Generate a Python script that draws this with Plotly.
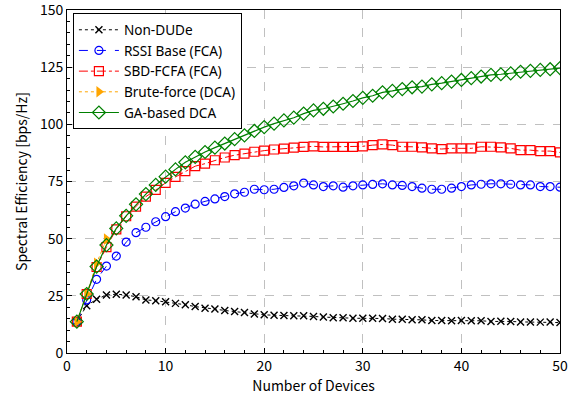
import plotly.graph_objects as go

devices = list(range(1, 51))

non_dude = [13.7, 20.7, 23.5, 25.4, 25.7, 25.4, 24.6, 23.2, 22.9, 22.4,
            21.7, 21.1, 20.3, 19.6, 19.2, 18.6, 18.1, 17.7, 17.1, 16.7,
            16.5, 16.4, 16.3, 16.3, 16.0, 15.7, 15.4, 15.4, 15.2, 15.2,
            15.2, 15.1, 14.8, 14.8, 14.5, 14.5, 14.2, 14.2, 14.1, 14.2,
            14.1, 14.1, 13.8, 13.9, 13.8, 13.6, 13.6, 13.5, 13.6, 13.3]

rssi_fca = [13.7, 23.2, 32.2, 38.0, 42.4, 48.5, 52.6, 55.0, 57.4, 59.6,
            61.8, 63.4, 65.1, 66.3, 67.4, 68.4, 69.6, 70.3, 71.6, 71.4,
            71.6, 72.4, 73.1, 74.3, 73.5, 72.8, 73.1, 72.5, 73.1, 73.5,
            73.7, 74.0, 73.5, 73.3, 72.8, 72.1, 71.6, 71.6, 72.1, 72.8,
            73.5, 73.8, 74.0, 74.0, 73.8, 73.5, 73.5, 72.8, 72.8, 72.5]

sbd_fcfa = [13.7, 25.8, 37.6, 46.3, 54.1, 59.8, 64.0, 68.4, 71.3, 74.4,
            77.0, 79.5, 81.7, 82.8, 84.3, 85.5, 86.5, 87.2, 88.0, 88.5,
            89.0, 89.4, 89.8, 90.1, 90.4, 90.1, 90.1, 90.1, 90.1, 90.4,
            90.9, 91.2, 90.9, 90.2, 90.2, 89.9, 89.5, 89.2, 89.5, 89.5,
            89.5, 90.2, 90.2, 89.9, 89.5, 88.7, 88.7, 88.3, 88.3, 87.7]

brute_devices = [1, 2, 3, 4]
brute_force = [13.7, 25.8, 39.2, 49.8]

ga_dca = [13.7, 25.8, 37.8, 47.2, 54.5, 60.0, 65.0, 69.5, 73.5, 77.1,
          80.3, 83.4, 85.8, 87.9, 89.8, 91.6, 93.5, 95.2, 97.1, 98.8,
          100.3, 101.7, 102.9, 104.7, 106.1, 106.8, 107.8, 109.0, 110.2, 111.6,
          112.5, 114.0, 114.6, 115.4, 116.2, 116.5, 117.5, 118.0, 118.7, 119.4,
          120.2, 120.9, 121.6, 121.9, 122.3, 123.0, 123.4, 123.8, 124.1, 124.6]

x_ticks = [0, 10, 20, 30, 40, 50]
y_ticks = [0, 25, 50, 75, 100, 125, 150]

FONT = "Noto Sans CJK JP"
FS = 14
LEG_FONT = "Noto Sans"

fig = go.Figure()
fig.add_trace(go.Scatter(
    x=devices, y=non_dude, name="Non-DUDe", mode="lines+markers",
    line=dict(color="black", width=1, dash="dot"),
    marker=dict(symbol="x-thin-open", size=7, color="black",
                line=dict(color="black", width=1.4))))
fig.add_trace(go.Scatter(
    x=devices, y=rssi_fca, name="RSSI Base (FCA)", mode="lines+markers",
    line=dict(color="#0000ff", width=1, dash="dash"),
    marker=dict(symbol="circle-open", size=8, color="#0000ff",
                line=dict(color="#0000ff", width=1.2))))
fig.add_trace(go.Scatter(
    x=devices, y=sbd_fcfa, name="SBD-FCFA (FCA)", mode="lines+markers",
    line=dict(color="#ff0000", width=1, dash="dashdot"),
    marker=dict(symbol="square-open", size=9, color="#ff0000",
                line=dict(color="#ff0000", width=1.2))))
fig.add_trace(go.Scatter(
    x=brute_devices, y=brute_force, name="Brute-force (DCA)", mode="lines+markers",
    line=dict(color="#ffa500", width=1, dash="dot"),
    marker=dict(symbol="triangle-right", size=10, color="#ffa500")))
fig.add_trace(go.Scatter(
    x=devices, y=ga_dca, name="GA-based DCA", mode="lines+markers",
    line=dict(color="#008000", width=1.2),
    marker=dict(symbol="diamond-open", size=10, color="#008000",
                line=dict(color="#008000", width=1.2))))

axis_common = dict(
    showline=True, linecolor="black", linewidth=1, mirror=True,
    ticks="inside", ticklen=5, tickcolor="black",
    showgrid=True, gridcolor="#c0c0c0", griddash="dash", gridwidth=1,
    zeroline=False, tickfont=dict(family=FONT, size=FS, color="black"),
    ticklabeloverflow="allow",
)

fig.update_xaxes(
    range=[0, 50], tickvals=x_ticks,
    title=dict(text="Number of Devices", font=dict(family=FONT, size=FS, color="black"), standoff=2),
    minor=dict(dtick=2, tick0=0, ticks="inside", ticklen=3, tickcolor="black", showgrid=False),
    **axis_common)
fig.update_yaxes(
    range=[0, 150], tickvals=y_ticks,
    title=dict(text="Spectral Efficiency [bps/Hz]", font=dict(family=FONT, size=FS, color="black"), standoff=8),
    minor=dict(dtick=5, tick0=0, ticks="inside", ticklen=3, tickcolor="black", showgrid=False),
    **axis_common)

fig.update_layout(
    width=581, height=397,
    margin=dict(l=67, r=21, t=10, b=44, autoexpand=False),
    plot_bgcolor="white", paper_bgcolor="white",
    font=dict(family=FONT, size=FS, color="black"),
    legend=dict(x=0.012, y=0.99, xanchor="left", yanchor="top",
                bgcolor="white", bordercolor="black", borderwidth=1,
                font=dict(family=LEG_FONT, size=13.6, color="black"),
                itemwidth=40, tracegroupgap=0),
    showlegend=True,
)

fig.write_html("out.html", config={"displayModeBar": False},
               post_script="document.body.style.margin='0';")
